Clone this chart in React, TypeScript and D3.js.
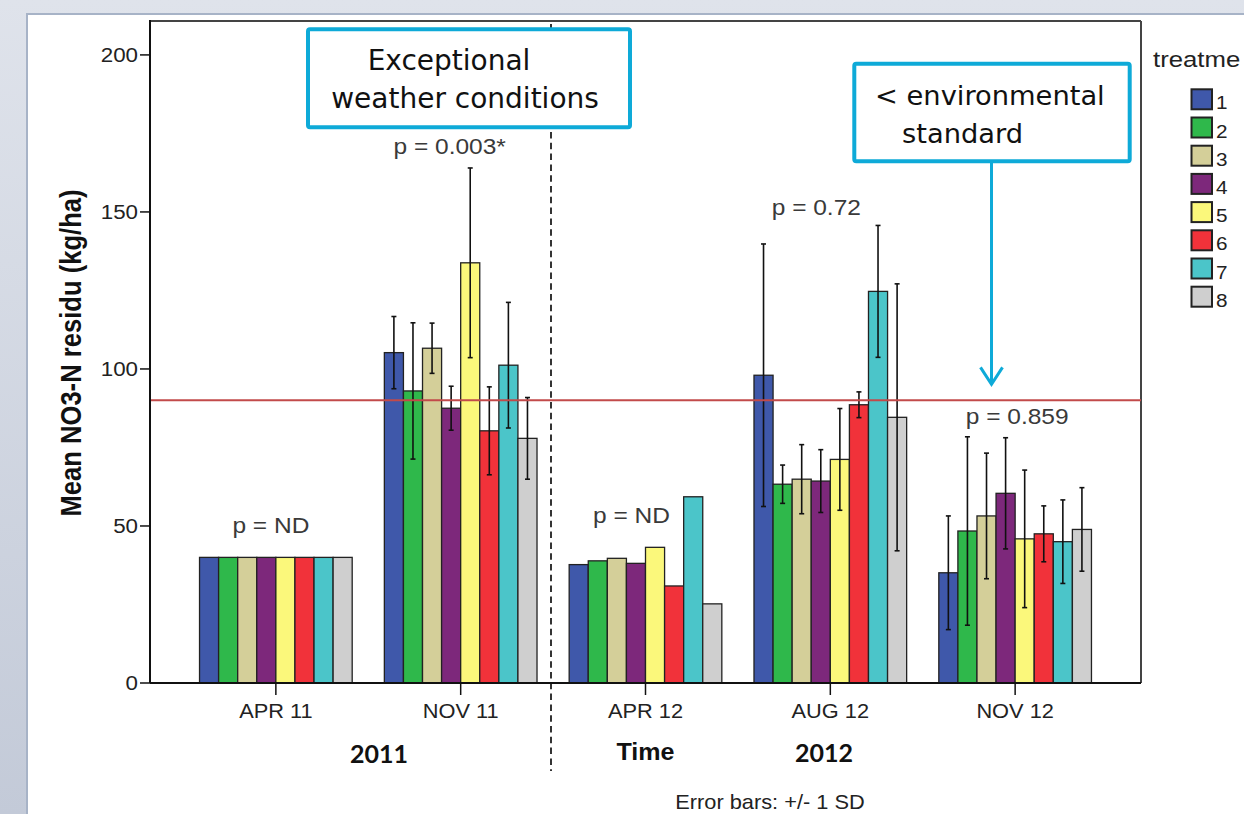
import React from 'react';
import * as d3 from 'd3';

// time points and treatments
const timePoints = ['APR 11', 'NOV 11', 'APR 12', 'AUG 12', 'NOV 12'];
const treatments = ['1', '2', '3', '4', '5', '6', '7', '8'];

// mean NO3-N residue (kg/ha) per treatment, one array per time point
const apr11 = [40, 40, 40, 40, 40, 40, 40, 40];
const nov11 = [105.2, 93, 106.6, 87.5, 133.8, 80.3, 101.2, 77.9];
const apr12 = [37.7, 38.9, 39.7, 38.1, 43.2, 30.9, 59.3, 25.2];
const aug12 = [98, 63.3, 64.9, 64.3, 71.2, 88.6, 124.7, 84.6];
const nov12 = [35.1, 48.4, 53.2, 60.4, 45.9, 47.5, 45, 48.9];

// +/- 1 SD (null = no error bar)
const apr11Sd = null;
const nov11Sd = [11.5, 21.7, 8, 7, 30.2, 14, 20, 13];
const apr12Sd = null;
const aug12Sd = [41.8, 6.1, 11, 10, 16.2, 4.1, 21, 42.5];
const nov12Sd = [18.1, 30, 20, 17.7, 21.9, 8.9, 13.3, 13.3];

const pValues = ['p = ND', 'p = 0.003*', 'p = ND', 'p = 0.72', 'p = 0.859'];
const yTicks = [0, 50, 100, 150, 200];
const threshold = 90; // environmental standard

const means = [apr11, nov11, apr12, aug12, nov12];
const sds = [apr11Sd, nov11Sd, apr12Sd, aug12Sd, nov12Sd];

const colors = ['#3f58aa', '#2fb84b', '#d4cf99', '#7d287b', '#fbf87b', '#f1323a', '#4bc5c9', '#cfcfcf'];

// layout
const W = 1244;
const H = 814;
const left = 150, right = 1141, top = 21, bottom = 683;
const sx = 1.09; // the spss picture is a bit stretched sideways
const arial = '"Liberation Sans", Arial, sans-serif';
const cyan = '#0eaad8';

// p label anchors (in kg/ha) and nudges
const pAt = [47.8, 168.5, 51, 149, 82.5];
const pDx = [-5, -11, -14, -14, 2];

function T(props: any) {
  const { x, y, children, anchor = 'middle', size = 20, weight = 'normal', fill = '#222', family = arial, scale = sx } = props;
  return (
    <text
      transform={`translate(${x},${y}) scale(${scale},1)`}
      textAnchor={anchor}
      fontSize={size}
      fontWeight={weight}
      fill={fill}
      fontFamily={family}
    >
      {children}
    </text>
  );
}

export default function App() {
  const y = d3.scaleLinear().domain([0, 210.8]).range([bottom, top]);
  const x = d3.scaleBand().domain(timePoints).range([left, right]).paddingInner(0.174).paddingOuter(0.268);
  const xi = d3.scaleBand().domain(treatments).range([0, x.bandwidth()]);
  const legY = d3.scaleLinear().domain([0, treatments.length - 1]).range([89.3, 286.7]);
  const cx = (t: string) => (x(t) as number) + x.bandwidth() / 2;

  return (
    <div style={{ position: 'absolute', left: 0, top: 0 }}>
      <svg width={W} height={H} style={{ display: 'block' }}>
        <defs>
          <linearGradient id="bg" x1="0" y1="0" x2="0" y2="1">
            <stop offset="0" stopColor="#dfe3eb" />
            <stop offset="1" stopColor="#c3cad8" />
          </linearGradient>
        </defs>
        <rect x={0} y={0} width={W} height={H} fill="url(#bg)" />
        <rect x={27} y={14} width={W} height={H} fill="#fff" stroke="#a7b3c7" strokeWidth={2} />

        {/* frame */}
        <line x1={left} x2={right} y1={top} y2={top} stroke="#444" strokeWidth={2} />
        <line x1={right} x2={right} y1={top} y2={bottom} stroke="#444" strokeWidth={2} />

        {/* bars */}
        {timePoints.map((t, gi) => (
          <g key={t} transform={`translate(${x(t)},0)`}>
            {treatments.map((tr, i) => (
              <rect
                key={tr}
                x={xi(tr) as number}
                y={y(means[gi][i])}
                width={xi.bandwidth()}
                height={y(0) - y(means[gi][i])}
                fill={colors[i]}
                stroke="#222"
                strokeWidth={1.3}
              />
            ))}
            {sds[gi] &&
              treatments.map((tr, i) => {
                const m = means[gi][i];
                const s = (sds[gi] as number[])[i];
                const ex = (xi(tr) as number) + xi.bandwidth() / 2;
                return (
                  <g key={'e' + tr} stroke="#111" strokeWidth={1.6}>
                    <line x1={ex} x2={ex} y1={y(m + s)} y2={y(m - s)} />
                    <line x1={ex - 2.5} x2={ex + 2.5} y1={y(m + s)} y2={y(m + s)} />
                    <line x1={ex - 2.5} x2={ex + 2.5} y1={y(m - s)} y2={y(m - s)} />
                  </g>
                );
              })}
          </g>
        ))}

        {/* environmental standard */}
        <line x1={left} x2={right} y1={y(threshold)} y2={y(threshold)} stroke="#c24a4a" strokeWidth={2} />

        {/* axes */}
        <line x1={left} x2={left} y1={top - 1} y2={bottom} stroke="#111" strokeWidth={2} />
        <line x1={left} x2={right} y1={bottom} y2={bottom} stroke="#111" strokeWidth={2} />
        {yTicks.map((v) => (
          <g key={v}>
            <line x1={left - 10} x2={left} y1={y(v)} y2={y(v)} stroke="#111" strokeWidth={1.5} />
            <T x={138} y={y(v) + 7} anchor="end" size={20.5}>{v}</T>
          </g>
        ))}
        {timePoints.map((t) => (
          <g key={t}>
            <line x1={cx(t)} x2={cx(t)} y1={bottom} y2={bottom + 12} stroke="#111" strokeWidth={1.5} />
            <T x={cx(t)} y={718}>{t}</T>
          </g>
        ))}

        {/* p values */}
        {timePoints.map((t, gi) => (
          <T key={t} x={cx(t) + pDx[gi]} y={y(pAt[gi])} size={22.5} fill="#3a3a3a">
            {pValues[gi]}
          </T>
        ))}

        {/* y title */}
        <text
          transform={`translate(81,353) scale(1.15,1) rotate(-90)`}
          textAnchor="middle"
          fontSize={25.6}
          fontWeight="bold"
          fontFamily={arial}
          fill="#111"
        >
          Mean NO3-N residu (kg/ha)
        </text>

        {/* x titles */}
        <T x={(left + right) / 2} y={760} size={23} weight="bold" fill="#111">Time</T>
        <T x={379} y={763} size={25} weight="bold" fill="#111" family="Lato, sans-serif" scale={1}>2011</T>
        <T x={824} y={762} size={25} weight="bold" fill="#111" family="Lato, sans-serif" scale={1}>2012</T>
        <T x={770} y={809} size={20}>Error bars: +/- 1 SD</T>

        {/* year divider */}
        <line x1={551} x2={551} y1={top + 3} y2={771} stroke="#111" strokeWidth={1.7} strokeDasharray="6.5,4.3" />

        {/* legend (title is cut off at the page edge in the source) */}
        <T x={1153} y={67} size={23} anchor="start" scale={1.12}>treatme</T>
        {treatments.map((tr, i) => (
          <g key={tr}>
            <rect x={1191.5} y={legY(i)} width={20.5} height={20} fill={colors[i]} stroke="#222" strokeWidth={2} />
            <T x={1216} y={legY(i) + 20} size={19} anchor="start">{tr}</T>
          </g>
        ))}

        {/* annotation: exceptional weather */}
        <rect x={308} y={29.3} width={322} height={98} fill="#fff" stroke={cyan} strokeWidth={4} rx={2} />
        <T x={449} y={70} size={28} fill="#111" family='"DejaVu Sans", sans-serif' scale={1}>Exceptional</T>
        <T x={465} y={108} size={28} fill="#111" family='"DejaVu Sans", sans-serif' scale={1}>weather conditions</T>

        {/* annotation: environmental standard */}
        <rect x={854.3} y={63.7} width={275.4} height={97.6} fill="#fff" stroke={cyan} strokeWidth={4} rx={2} />
        <T x={875} y={105} size={27.3} anchor="start" fill="#111" family='"DejaVu Sans", sans-serif' scale={1}>&lt; environmental</T>
        <T x={902} y={143} size={27.3} anchor="start" fill="#111" family='"DejaVu Sans", sans-serif' scale={1}>standard</T>
        <g stroke={cyan} strokeWidth={3} fill="none">
          <line x1={991.5} x2={991.5} y1={163} y2={y(threshold) - 16} />
          <polyline points={`980.5,${y(threshold) - 33} 991.5,${y(threshold) - 16} 1002.5,${y(threshold) - 33}`} />
        </g>
      </svg>
    </div>
  );
}
